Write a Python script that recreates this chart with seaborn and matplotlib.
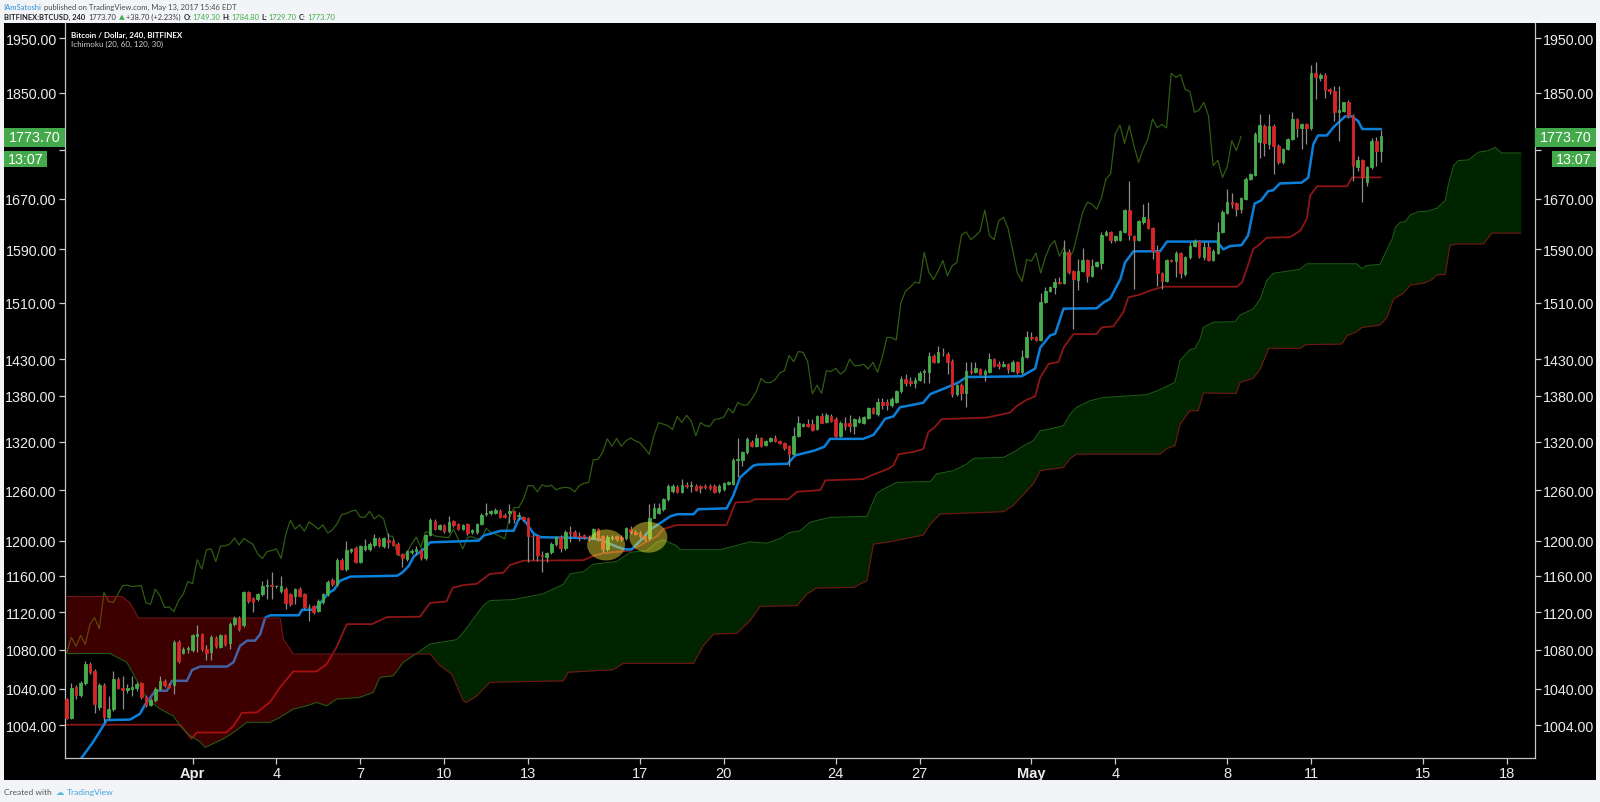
import numpy as np
import pandas as pd
import matplotlib
matplotlib.use("Agg")
import matplotlib.pyplot as plt
import matplotlib.ticker as mticker
import matplotlib.transforms as mtransforms
from matplotlib.patches import Rectangle, Ellipse
import seaborn as sns

# ---------------- data (BITFINEX:BTCUSD, 240 min bars) ----------------
FIRST_BAR = "2017-03-27 12:00"
BAR_HOURS = 4
ORIGIN = "2017-04-01"

opens = [
    1030, 1011, 1042, 1034, 1046, 1065, 1058, 1022, 1044, 1012,
    1020, 1050, 1041, 1039, 1040, 1040.5, 1045.5, 1032, 1024, 1029,
    1040, 1048, 1044, 1044, 1088, 1077, 1081, 1080, 1094, 1096,
    1081, 1078, 1092, 1083, 1095, 1086.5, 1107, 1114, 1106, 1141.5,
    1135, 1134, 1139.5, 1149, 1149.5, 1148, 1143, 1145, 1139.5, 1138,
    1145, 1139.5, 1125, 1127, 1121.5, 1130.5, 1139.5, 1155, 1151, 1178,
    1167.5, 1188.5, 1192, 1176, 1190, 1190, 1195, 1202, 1194, 1201,
    1200, 1196, 1184.5, 1179, 1186.5, 1187.5, 1189.5, 1179.5, 1206.5, 1223.5,
    1214, 1218.5, 1211, 1222.5, 1219.5, 1214, 1219.5, 1209.5, 1209.5, 1219.5,
    1231, 1232, 1233, 1235, 1230, 1233, 1234.5, 1229.5, 1227.5, 1226.5,
    1205.5, 1205.5, 1183.5, 1181, 1186.5, 1196, 1204, 1191, 1210, 1210,
    1205.5, 1206, 1204, 1203.5, 1213.5, 1205.5, 1190.5, 1203, 1205.5, 1204,
    1202.5, 1213.5, 1210.5, 1209, 1205.5, 1202.5, 1227, 1233, 1237, 1249,
    1259, 1264, 1258, 1266.5, 1264.5, 1265.5, 1264.5, 1265.5, 1265, 1265.5,
    1259, 1261, 1268, 1267.5, 1297.5, 1297.5, 1307, 1319.5, 1315.5, 1324.5,
    1316.5, 1321.5, 1325, 1321.5, 1319, 1314.5, 1304.5, 1328, 1341, 1343,
    1343, 1336.5, 1353, 1346, 1354, 1350, 1328, 1345, 1344, 1340,
    1346, 1345, 1350.5, 1363.5, 1356, 1371.5, 1371.5, 1368, 1372.5, 1386,
    1402.5, 1399.5, 1397.5, 1401.5, 1412, 1413, 1435, 1426.5, 1440, 1437.5,
    1427.5, 1383, 1394.5, 1383.5, 1414, 1413, 1416.5, 1409.5, 1413, 1430,
    1423.5, 1421, 1423.5, 1414, 1425.5, 1412, 1432.5, 1460.5, 1460.5, 1456.5,
    1510.5, 1528, 1533, 1540.5, 1539.5, 1585.5, 1556.5, 1544, 1557.5, 1573,
    1550, 1565, 1569, 1613, 1617.5, 1604, 1605, 1617.5, 1651.5, 1610,
    1605, 1633, 1638, 1622.5, 1588, 1554, 1541.5, 1573.5, 1572, 1584.5,
    1552, 1578, 1594.5, 1603.5, 1578, 1593, 1574.5, 1585, 1617.5, 1647,
    1664, 1662.5, 1653, 1669, 1702, 1708.5, 1763.5, 1792, 1761, 1792,
    1757.5, 1729.5, 1752, 1769, 1803.5, 1788, 1794, 1787, 1885, 1876,
    1882.5, 1856.5, 1852, 1815, 1817, 1833, 1809, 1721, 1733.5, 1696.5,
    1721.5, 1766, 1749.3,
]
highs = [
    1031, 1046, 1044, 1048, 1068, 1067, 1060, 1046, 1046, 1033,
    1058, 1052, 1053, 1045, 1053, 1047, 1047, 1034, 1031, 1042,
    1053, 1050, 1046, 1090, 1090, 1083, 1084, 1096, 1106, 1098,
    1085, 1095, 1094, 1096, 1097, 1109, 1116, 1116, 1143, 1143,
    1136, 1141, 1154, 1156, 1164.5, 1150, 1160, 1147, 1141, 1146,
    1147, 1141, 1128.5, 1128, 1134, 1141, 1155, 1157, 1180, 1180,
    1200, 1192, 1194, 1195, 1202, 1198, 1207.5, 1204, 1204, 1208.5,
    1202, 1198, 1186, 1189, 1190, 1194, 1191, 1208, 1226, 1225,
    1220, 1220, 1229, 1224, 1221, 1220, 1221, 1214, 1221, 1232,
    1244, 1236, 1238, 1237, 1232, 1243, 1236, 1234, 1229, 1228,
    1207.5, 1207, 1188, 1187, 1198, 1205, 1206, 1212, 1217, 1212,
    1210, 1208, 1206, 1215, 1215, 1207, 1206, 1206, 1207, 1206,
    1216, 1217, 1212, 1211, 1207, 1243, 1245, 1245, 1251, 1267,
    1267, 1266, 1274, 1270, 1271, 1268, 1266, 1267, 1267, 1267,
    1267, 1270, 1271, 1300, 1325, 1309, 1326, 1322, 1330, 1327,
    1323, 1327, 1329, 1323, 1320, 1316, 1339, 1353, 1345, 1350,
    1350, 1355, 1358, 1357, 1356, 1352, 1347, 1352, 1355, 1351,
    1353, 1354, 1365, 1366, 1377.5, 1377, 1376, 1378, 1388, 1407,
    1409.5, 1405, 1406, 1414, 1417, 1439.5, 1437, 1448, 1446, 1440,
    1430, 1396, 1397, 1426.5, 1426.5, 1426.5, 1418, 1416, 1438, 1432,
    1427.5, 1427, 1425, 1429, 1427, 1442, 1469, 1468.5, 1462, 1525,
    1533, 1535, 1546, 1548, 1604, 1590, 1558, 1575, 1592, 1575,
    1575, 1572, 1617, 1620, 1619, 1613, 1620, 1653, 1699, 1612,
    1636, 1661, 1664, 1624, 1596, 1556, 1576, 1576, 1587, 1586,
    1580, 1601, 1606, 1605, 1601, 1601, 1590, 1632, 1652, 1685.5,
    1679, 1664, 1672, 1705, 1712, 1780.5, 1812, 1794, 1812, 1794,
    1760, 1754, 1771, 1816, 1806, 1796, 1796, 1900, 1905, 1886,
    1885, 1859, 1862, 1862, 1834, 1836, 1812, 1740, 1735, 1723,
    1771, 1772, 1784.8,
]
lows = [
    1010, 1010, 1030, 1032, 1044, 1055, 1016, 1019, 1007, 1010,
    1018, 1040, 1020, 1036, 1033, 1038, 1030, 1022, 1023, 1027,
    1039, 1042, 1041, 1035, 1066, 1075, 1077, 1078, 1078, 1079,
    1069, 1069, 1082, 1082, 1084, 1081, 1105, 1100, 1104, 1130,
    1120, 1132, 1138, 1134, 1134, 1146, 1141, 1123, 1127, 1128.5,
    1136, 1123, 1110, 1118, 1120, 1129, 1138, 1149, 1149, 1166,
    1165, 1186, 1174, 1174, 1188, 1188, 1193, 1193, 1192, 1192,
    1194, 1183, 1169.5, 1177, 1185, 1184.5, 1178, 1178, 1205, 1212,
    1212, 1209, 1209, 1216, 1212, 1212, 1207, 1208, 1208, 1218,
    1229, 1230, 1231, 1226, 1226, 1221, 1221, 1224, 1223, 1175,
    1178, 1177, 1164, 1175, 1185, 1194, 1186.5, 1189, 1199, 1204,
    1200, 1202, 1200, 1202, 1200, 1186.5, 1188, 1201, 1200, 1200,
    1201, 1208, 1206, 1203, 1200, 1201, 1226, 1231, 1235, 1247,
    1257, 1256, 1256, 1263, 1258, 1259, 1257, 1261, 1260, 1256,
    1257, 1259, 1266, 1266, 1276, 1290, 1305, 1313, 1314, 1313,
    1315, 1320, 1320, 1317, 1310, 1290, 1303, 1326, 1339, 1339,
    1334, 1335, 1344, 1344, 1346, 1327, 1326, 1336, 1333, 1330,
    1344, 1343, 1349, 1356, 1354, 1362.5, 1362, 1366, 1371, 1384,
    1394, 1394, 1391, 1400, 1398, 1398, 1424, 1425, 1435, 1409.5,
    1378, 1380, 1374, 1365, 1410, 1411, 1408, 1400, 1411, 1419,
    1416, 1419, 1411, 1412, 1410, 1410, 1431, 1456, 1455, 1455,
    1509, 1526, 1523, 1538, 1538, 1553, 1472, 1529, 1555, 1540,
    1548, 1563, 1560, 1611, 1600, 1602, 1603, 1616, 1605, 1530,
    1603, 1630, 1621, 1575, 1535, 1530, 1540, 1570, 1548, 1547,
    1550, 1576, 1593, 1577, 1574, 1572, 1572, 1583, 1615, 1645,
    1655, 1642, 1647, 1667, 1700, 1706, 1737.5, 1740, 1752, 1710,
    1727, 1727, 1750, 1767, 1772, 1752, 1761, 1785, 1839, 1870,
    1840, 1848, 1800, 1766, 1815, 1806, 1699, 1715, 1664, 1690,
    1719, 1723, 1729.7,
]
closes = [
    1011, 1041, 1034, 1046, 1065, 1057, 1025, 1044, 1012, 1020,
    1050, 1041, 1039, 1040.5, 1042, 1045, 1032, 1024, 1029, 1040,
    1048, 1044, 1042, 1088, 1068, 1081, 1082, 1095, 1096, 1081,
    1076.5, 1093, 1083.5, 1095, 1085.5, 1107, 1114, 1102, 1141.5, 1131.5,
    1130.5, 1139.5, 1149, 1149.5, 1148, 1148.5, 1149, 1130, 1128.5, 1145,
    1138, 1125, 1125.5, 1120.5, 1132.5, 1139.5, 1153.5, 1151, 1178, 1167.5,
    1189.5, 1190.5, 1176, 1193.5, 1194, 1196, 1203, 1195, 1202.5, 1199,
    1195.5, 1184.5, 1179.5, 1187.5, 1188.5, 1190.5, 1179.5, 1207, 1224, 1213.5,
    1218.5, 1211, 1222, 1218, 1213.5, 1218.5, 1209, 1212.5, 1219.5, 1230.5,
    1232, 1234.5, 1236, 1227.5, 1227.5, 1234.5, 1225.5, 1230, 1225.5, 1205.5,
    1205, 1183.5, 1182, 1185.5, 1196, 1204, 1192, 1210.5, 1209, 1205.5,
    1204.5, 1204, 1203.5, 1213.5, 1202, 1190.5, 1204, 1204.5, 1202, 1202,
    1214.5, 1209.5, 1207.5, 1205, 1202, 1227, 1239, 1239, 1249, 1265.5,
    1265.5, 1258, 1266.5, 1264.5, 1266, 1260.5, 1262.5, 1263.5, 1262.5, 1258,
    1265.5, 1268.5, 1269.5, 1297.5, 1298, 1307, 1324, 1314.5, 1324.5, 1314.5,
    1321.5, 1325, 1321.5, 1319, 1312, 1304.5, 1328, 1345, 1343, 1341,
    1336, 1353, 1345, 1354.5, 1347, 1328, 1345, 1341, 1340, 1349,
    1350, 1352, 1363.5, 1357.5, 1371.5, 1368, 1368, 1376, 1386, 1403.5,
    1398, 1398, 1402, 1411, 1414, 1435, 1426.5, 1440.5, 1439.5, 1426.5,
    1383, 1394.5, 1383.5, 1414, 1413, 1417.5, 1409.5, 1414, 1430, 1421,
    1421, 1423, 1416.5, 1425.5, 1412, 1432.5, 1460.5, 1460, 1456.5, 1510.5,
    1527, 1533, 1540.5, 1539, 1585.5, 1555, 1544.5, 1557.5, 1573, 1550,
    1565, 1570, 1612, 1617, 1605, 1611, 1618.5, 1651.5, 1611.5, 1605,
    1634.5, 1640, 1622.5, 1588, 1554, 1541.5, 1574.5, 1572, 1584.5, 1554,
    1578, 1595.5, 1603.5, 1579.5, 1593, 1574.5, 1588, 1617.5, 1648, 1664,
    1661, 1653, 1670.5, 1702, 1710.5, 1777.5, 1793, 1761.5, 1792, 1757.5,
    1729.5, 1752, 1769, 1803.5, 1788, 1794, 1788, 1885, 1877.5, 1882.5,
    1855.5, 1852, 1815, 1819.5, 1832.5, 1809, 1724, 1733, 1704.5, 1721.5,
    1766, 1749.3, 1773.7,
]

# Ichimoku (20, 60, 120, 30) lines: bar number -> price
conv_bar = [4.2, 5.3, 6.7, 9.6, 14.6, 16.7, 17.8, 20, 22.5, 23.6, 26.8, 27.9, 29.6, 35.4, 36.8, 38.2,
            39.7, 41.4, 42.5, 43.6, 44.7, 50.8, 51.5, 54, 55, 56.1, 57.2, 58.3, 59.7, 61.9, 71.9, 73,
            74.4, 75.5, 77.6, 79, 89.4, 90.5, 91.9, 94.1, 96.9, 98, 98.7, 99.5, 101.2, 102.7, 112.7,
            115.6, 119, 120.6, 122.2, 124.5, 126.2, 128.5, 130.5, 132, 135.5, 136.5, 142.6, 144,
            145.5, 148.3, 149.2, 155.7, 157.3, 161.4, 163.6, 164.8, 171.9, 174.1, 175.5, 176.6,
            178.4, 179.8, 184.8, 186.3, 189.1, 192.3, 194.1, 205.9, 208.8, 209.9, 212, 213.1,
            214.9, 222, 223.5, 224.9, 227.1, 228.1, 229.9, 235.6, 237.1, 247.8, 249.2, 250.6,
            253.1, 254.5, 255.9, 257.3, 258.8, 259.9, 261.3, 266, 267.4, 268.5, 269.5, 271.4,
            272.8, 275.3, 276.7, 278.1, 279, 283]
conv_val = [973, 979.5, 988, 1009, 1009.5, 1015, 1024, 1038, 1038, 1048, 1048, 1059, 1062.5, 1062.5,
            1067, 1084, 1089.5, 1089.5, 1096, 1114, 1116.5, 1116.5, 1122.5, 1122.5, 1127, 1134,
            1141, 1144, 1154.5, 1159, 1160, 1163.5, 1171, 1182, 1190, 1198, 1200, 1206, 1208,
            1211.5, 1211.5, 1225.5, 1226.5, 1221.5, 1208, 1204, 1203, 1201, 1193, 1190, 1190,
            1202, 1213, 1221, 1228.5, 1231, 1231, 1237, 1238, 1253, 1275.7, 1290, 1291.5,
            1292.5, 1303, 1309, 1314, 1324, 1324, 1329, 1340, 1350, 1353, 1365, 1371, 1382.5,
            1389.5, 1398, 1405.5, 1406.5, 1417, 1446, 1463, 1465.5, 1501.5, 1502, 1510.5, 1516,
            1545, 1570, 1587, 1587, 1602, 1602, 1590, 1595, 1596.5, 1611.5, 1662, 1667, 1682,
            1683.5, 1694.5, 1696, 1704, 1760, 1775, 1775, 1789, 1808, 1808, 1800, 1786, 1786]

base_bar = [1, 25.3, 27.8, 28.9, 35.3, 36.8, 38.6, 41.8, 44.6, 46.8, 49.6, 54.6, 56.8, 58.9, 61.1,
            66.5, 69.7, 76.8, 79, 82.5, 83.8, 86.1, 89, 91.8, 94.7, 96.1, 99, 111.9, 114, 116.1,
            121.9, 127.6, 129, 131.9, 142.6, 144.5, 147.6, 148.7, 155.8, 157.7, 162.7, 163.8,
            171.9, 173.4, 177.4, 178.4, 179.5, 182.7, 184.8, 185.9, 187, 188.8, 198.4, 203.4,
            204.9, 207, 208.8, 209.9, 211.7, 213.8, 214.9, 217, 222, 223.1, 225.6, 227.7, 228.8,
            231.3, 233.5, 236.3, 252.1, 253.2, 254.2, 255.6, 257.1, 258.5, 263.5, 265.7, 267.1,
            267.8, 269.3, 275.7, 276.8, 283]
base_val = [1004.5, 1004.5, 991, 997, 997, 1003.5, 1016, 1016.5, 1026.5, 1041.5, 1057.5, 1057.5,
            1065, 1082.5, 1107, 1107, 1114.5, 1115, 1130, 1131.5, 1146.5, 1149.5, 1151, 1162,
            1163.5, 1172, 1177, 1177.5, 1182.5, 1185.5, 1188.5, 1205, 1213.5, 1218.3, 1218.3,
            1245, 1246, 1249, 1249, 1258, 1260, 1272, 1273.5, 1277.5, 1286.5, 1290.5, 1304.5,
            1307.5, 1311, 1333, 1337.5, 1349.5, 1351.5, 1358, 1367, 1375, 1379.5, 1405, 1423.5,
            1426, 1446, 1465, 1465, 1474.5, 1476, 1496, 1518, 1522, 1528, 1533.7, 1533.7, 1540,
            1560, 1590.5, 1598.5, 1608, 1609, 1619, 1637.5, 1674.5, 1690, 1690, 1704.5, 1704.5]

span_a_bar = [1, 10.3, 13.9, 18.2, 21, 23.9, 25.3, 27.5, 29.6, 30.7, 32.5, 34.6, 36.8, 39.6, 44.6,
              46.8, 49.6, 52.5, 54.6, 56.8, 58.9, 63.9, 66.8, 68.2, 71.1, 73.2, 75.4, 79, 84.7,
              86.1, 90.4, 91.8, 96.8, 100.4, 103.3, 104.7, 107.6, 109, 111.9, 114, 119, 121.9,
              125.5, 127.6, 129, 131.9, 132.6, 141.2, 144.8, 147.6, 151.2, 154.1, 156.2, 158.4,
              160.5, 164.8, 172.7, 174.8, 176.2, 179.1, 186.3, 187.7, 191.3, 194.1, 195.6, 202,
              204.2, 206.3, 208.4, 209.9, 212, 214.9, 216.3, 217.7, 220.6, 223.5, 232.8, 235.6,
              238.8, 239.9, 242, 243.1, 244.2, 244.9, 247, 251.7, 252.8, 255.6, 257.1, 258.5,
              259.9, 263.5, 265.7, 267.1, 277.8, 278.9, 280, 282.8, 284.3, 285.4, 286.1, 287.1,
              288.2, 289.3, 291.1, 292.8, 295, 296.8, 297.5, 298.6, 299.6, 301.8, 303.9, 306.1,
              307.5, 308.9, 313]
span_a_val = [1076, 1076, 1067, 1030, 1020, 1013, 1003.5, 994, 988, 982.7, 986.5, 991, 997, 1006.8,
              1006.8, 1011.8, 1019.8, 1023, 1026.4, 1023, 1029.7, 1031.4, 1036.4, 1051.5, 1053.2,
              1067, 1074, 1086, 1090.5, 1098, 1127, 1132.5, 1133.5, 1137, 1140, 1143.5, 1150.5,
              1162, 1164.5, 1173, 1176, 1186.5, 1188.5, 1198, 1201, 1194, 1189.5, 1189.5, 1194.5,
              1198.5, 1197, 1202.5, 1209.5, 1211.5, 1221.5, 1227.3, 1228.5, 1256, 1261, 1269.5,
              1270.5, 1280, 1284, 1292, 1299.3, 1300.5, 1307, 1315, 1321.5, 1334.5, 1336.6, 1341,
              1356, 1365, 1373.7, 1378, 1381.7, 1388.5, 1398.3, 1428, 1443, 1445, 1458, 1474.5,
              1482, 1482.7, 1492.3, 1501, 1515.5, 1542.6, 1553.6, 1557.4, 1560, 1568, 1568,
              1560.5, 1565.5, 1567, 1589.4, 1605.8, 1624, 1632, 1633, 1643.7, 1649, 1649.5,
              1654.3, 1666.6, 1693.6, 1724, 1732.4, 1733.5, 1746.4, 1749.2, 1754.7, 1745.2, 1745.2]

span_b_bar = [1, 12.8, 14.6, 16.4, 46.8, 47.5, 49.6, 79, 81.1, 83.6, 86.1, 86.8, 89, 91.8, 107.6,
              108.6, 118.3, 120.4, 135.5, 137.6, 139.8, 144.8, 147.6, 149.8, 157.7, 159.8, 161.9,
              169.8, 172.7, 174.1, 177.7, 184.8, 186.3, 188.4, 202, 204.2, 207, 208.4, 209.9,
              214.9, 216.3, 217.7, 235.6, 237.1, 238.8, 239.9, 242, 243.8, 244.9, 251.9, 252.8,
              255.6, 257.1, 258.9, 265.7, 266.8, 274.6, 275.7, 277.8, 278.9, 282.8, 284.3, 285.7,
              287.8, 289.3, 292.1, 293.9, 295, 296.8, 297.8, 298.9, 305, 306.8, 313]
span_b_val = [1137, 1137, 1130, 1113.5, 1113.5, 1091, 1075.5, 1075.5, 1063.5, 1055, 1028, 1026.5,
              1033, 1046.5, 1048, 1056.7, 1059.4, 1065.8, 1065.8, 1084.2, 1096.5, 1097.2, 1110.7,
              1126.2, 1127, 1139.7, 1146.3, 1147, 1154.4, 1196, 1198.8, 1206.5, 1219.4, 1231.2,
              1234.1, 1242, 1259.3, 1267.6, 1284, 1288, 1299.3, 1304.7, 1304.7, 1312, 1315.2, 1343,
              1360.5, 1360.5, 1384, 1383.5, 1398.3, 1404, 1416.4, 1445, 1445, 1450.2, 1451, 1462.8,
              1468.4, 1474.5, 1477.8, 1489, 1515.5, 1524.3, 1536.2, 1538.7, 1544, 1551.6, 1551.6,
              1595.7, 1598.3, 1598.3, 1615.3, 1615.3]

LAG_SHIFT = 30
price_ticks = [1004, 1040, 1080, 1120, 1160, 1200, 1260, 1320, 1380, 1430, 1510, 1590, 1670, 1750, 1850, 1950]
hidden_tick = 1750  # sits behind the last-price tag
date_ticks = ["2017-04-01", "2017-04-04", "2017-04-07", "2017-04-10", "2017-04-13", "2017-04-17",
              "2017-04-20", "2017-04-24", "2017-04-27", "2017-05-01", "2017-05-04", "2017-05-08",
              "2017-05-11", "2017-05-15", "2017-05-18"]
date_labels = ["Apr", "4", "7", "10", "13", "17", "20", "24", "27", "May", "4", "8", "11", "15", "18"]
marked_time = ["2017-04-15 19:00", "2017-04-17 07:15"]
marked_price = [1195, 1204]

last_o, last_h, last_l, last_c = 1749.30, 1784.80, 1729.70, 1773.70
last_chg, last_pct = 38.70, 2.23
countdown = "13:07"

# ---------------- helpers ----------------
W, H, DPI = 1600, 803, 100
t_first = pd.Timestamp(FIRST_BAR)
t_origin = pd.Timestamp(ORIGIN)


def bar_to_day(b):
    b = np.asarray(b, dtype=float)
    first = (t_first - t_origin) / pd.Timedelta(days=1)
    return first + (b - 1) * BAR_HOURS / 24.0


def time_to_day(s):
    return (pd.Timestamp(s) - t_origin) / pd.Timedelta(days=1)


df = pd.DataFrame({"open": opens, "high": highs, "low": lows, "close": closes})
df["bar"] = np.arange(1, len(df) + 1)
df["day"] = bar_to_day(df["bar"])
df["up"] = df["close"] >= df["open"]

sns.set_theme(style="dark")
plt.rcParams["font.family"] = ["Liberation Sans", "DejaVu Sans"]

fig = plt.figure(figsize=(W / DPI, H / DPI), dpi=DPI, facecolor="#f2f4f7")


def fx(px):
    return px / W


def fy(py):
    return 1 - py / H


fig.patches.append(Rectangle((fx(4), fy(781)), (1592) / W, (781 - 24) / H, transform=fig.transFigure,
                             facecolor="black", edgecolor="none", zorder=-5))

ax = fig.add_axes([fx(65), fy(759), 1470 / W, (759 - 24) / H])
ax.set_facecolor("black")
ax.grid(False)

# ---------------- Ichimoku cloud ----------------
grid = np.union1d(span_a_bar, span_b_bar)
a = np.interp(grid, span_a_bar, span_a_val)
b = np.interp(grid, span_b_bar, span_b_val)
gx = bar_to_day(grid)
ax.fill_between(gx, a, b, where=a >= b, interpolate=True, color="#00a000", alpha=0.22, lw=0, zorder=3)
ax.fill_between(gx, a, b, where=a < b, interpolate=True, color="#ff0000", alpha=0.24, lw=0, zorder=3)

sns.lineplot(x=bar_to_day(span_a_bar), y=span_a_val, ax=ax, color="#1d5a14", linewidth=0.8,
             estimator=None, sort=False, zorder=3.5)
sns.lineplot(x=bar_to_day(span_b_bar), y=span_b_val, ax=ax, color="#741515", linewidth=0.8,
             estimator=None, sort=False, zorder=3.5)

# lagging span (close shifted back)
sns.lineplot(x=df["day"].values[:-LAG_SHIFT], y=df["close"].values[LAG_SHIFT:], ax=ax,
             color="#4f9a1c", alpha=0.6, linewidth=0.9, estimator=None, sort=False, zorder=2)
# base line
sns.lineplot(x=bar_to_day(base_bar), y=base_val, ax=ax, color="#8e1616", linewidth=1.3,
             estimator=None, sort=False, zorder=2.1)
# conversion line
sns.lineplot(x=bar_to_day(conv_bar), y=conv_val, ax=ax, color="#0b80da", linewidth=1.8,
             estimator=None, sort=False, zorder=2.2)

# ---------------- candles ----------------
green, red = "#46ad4b", "#d72626"
cols = np.where(df["up"], green, red)
ax.vlines(df["day"], df["low"], df["high"], color="#8d8d8d", linewidth=0.9, zorder=4.5)
body_lo = np.minimum(df["open"], df["close"])
body_h = np.abs(df["close"] - df["open"])
ax.bar(df["day"], body_h, bottom=body_lo, width=0.092, color=cols, edgecolor=cols,
       linewidth=0.6, zorder=5)

# ---------------- highlighted zones ----------------
for t, p in zip(marked_time, marked_price):
    tr = fig.dpi_scale_trans + mtransforms.ScaledTranslation(time_to_day(t), p, ax.transData)
    ax.add_patch(Ellipse((0, 0), 0.38, 0.31, transform=tr, facecolor="#ffeb3b", alpha=0.45,
                         edgecolor="none", zorder=7))

# ---------------- axes ----------------
ax.set_yscale("log")
ax.set_ylim(972.7, 1978.7)
ax.set_xlim(-4.56, 48.01)
ax.yaxis.set_major_locator(mticker.FixedLocator(price_ticks))
ax.yaxis.set_minor_locator(mticker.NullLocator())
ax.yaxis.set_major_formatter(mticker.FuncFormatter(
    lambda v, p: "" if abs(v - hidden_tick) < 0.5 else f"{v:.2f}"))
ax.set_xticks([time_to_day(d) for d in date_ticks])
ax.set_xticklabels(date_labels)
ax.xaxis.set_minor_locator(mticker.NullLocator())
for lab in ax.get_xticklabels():
    if lab.get_text() in ("Apr", "May"):
        lab.set_fontweight("bold")
ax.tick_params(axis="y", which="major", left=True, right=True, labelleft=True, labelright=True,
               length=4, width=0.9, color="#cfcfcf", labelcolor="#ececec", labelsize=10.3,
               direction="out", pad=2)
ax.tick_params(axis="x", which="major", bottom=True, length=4, width=0.9, color="#cfcfcf",
               labelcolor="#ececec", labelsize=10.5, direction="out", pad=2)
ax.set_xlabel("")
ax.set_ylabel("")
for side in ("left", "right", "bottom"):
    ax.spines[side].set_visible(True)
    ax.spines[side].set_color("#c4c4c4")
    ax.spines[side].set_linewidth(0.9)
ax.spines["top"].set_visible(False)

# ---------------- price tags ----------------
tag_green = "#43a94b"


def tag(x0, x1, y0, y1, text):
    fig.patches.append(Rectangle((fx(x0), fy(y1)), (x1 - x0) / W, (y1 - y0) / H,
                                 transform=fig.transFigure, facecolor=tag_green, edgecolor="none",
                                 zorder=5))
    fig.text(fx((x0 + x1) / 2), fy((y0 + y1) / 2), text, color="white", fontsize=10.3,
             ha="center", va="center", zorder=6)


tag(1535, 1596, 129, 148, f"{last_c:.2f}")
tag(1552, 1596, 152, 168, countdown)
tag(4, 65, 129, 148, f"{last_c:.2f}")
tag(4, 47, 152, 168, countdown)

# ---------------- texts ----------------
renderer = fig.canvas.get_renderer()
HDR = ["Lato", "DejaVu Sans"]


def chain(segs, x0, base_y, size):
    x = x0
    for txt, col, wt, gap in segs:
        t = fig.text(fx(x), fy(base_y), txt, color=col, fontsize=size, fontweight=wt,
                     family=HDR, ha="left", va="baseline")
        x += t.get_window_extent(renderer).width + gap


dark = "#3a3a3a"
vg = "#3fae4a"
chain([("IAmSatoshi", "#2e8fdb", "normal", 2.2),
       ("published on TradingView.com, May 13, 2017 15:46 EDT", "#4a4a4a", "normal", 0)],
      3.5, 10, 5.5)
chain([("BITFINEX:BTCUSD, 240", "#222222", "bold", 3.5),
       (f"{last_c:.2f}", dark, "normal", 2.5),
       ("\u25b2", vg, "normal", 2),
       (f"+{last_chg:.2f} (+{last_pct:.2f}%)", dark, "normal", 2.5),
       ("O:", "#222222", "bold", 1), (f"{last_o:.2f}", vg, "normal", 2.5),
       ("H:", "#222222", "bold", 1), (f"{last_h:.2f}", vg, "normal", 2.5),
       ("L:", "#222222", "bold", 1), (f"{last_l:.2f}", vg, "normal", 2.5),
       ("C:", "#222222", "bold", 1), (f"{last_c:.2f}", vg, "normal", 0)],
      3.5, 19.5, 5.4)

fig.text(fx(71), fy(38), "Bitcoin / Dollar, 240, BITFINEX", color="white", fontsize=5.8,
         fontweight="bold", family=HDR, ha="left", va="baseline")
fig.text(fx(71), fy(47), "Ichimoku (20, 60, 120, 30)", color="#cfcfcf", fontsize=5.8,
         family=HDR, ha="left", va="baseline")

chain([("Created with", "#555555", "normal", 4),
       ("\u2601", "#5db6e6", "normal", 3),
       ("TradingView", "#3fa4de", "normal", 0)],
      4, 795.5, 6.0)

fig.savefig("out.png", dpi=DPI, facecolor=fig.get_facecolor())
